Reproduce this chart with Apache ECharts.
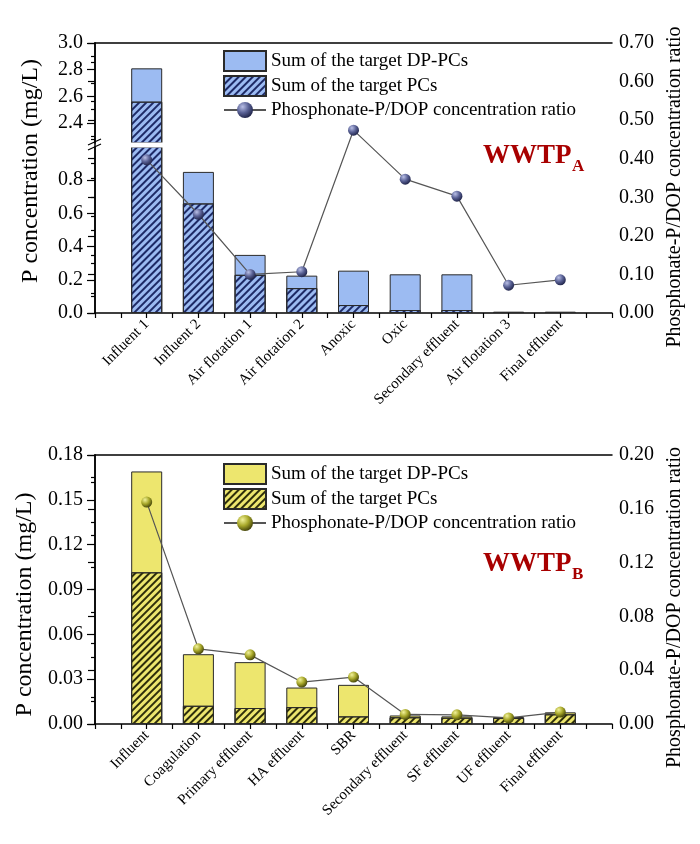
<!DOCTYPE html>
<html>
<head>
<meta charset="utf-8">
<script src="https://cdn.jsdelivr.net/npm/echarts@6/dist/echarts.min.js"></script>
<style>
html,body{margin:0;padding:0;background:#fff;}
#c{width:700px;height:844px;}
</style>
</head>
<body>
<div id="c"></div>
<script>
// ---------- data ----------
const catsA = ['Influent 1','Influent 2','Air flotation 1','Air flotation 2','Anoxic','Oxic','Secondary effluent','Air flotation 3','Final effluent'];
const dpA   = [2.81, 0.85, 0.35, 0.225, 0.255, 0.233, 0.233, 0.008, 0.008];
const pcsA  = [2.56, 0.66, 0.23, 0.15, 0.048, 0.018, 0.018, 0.006, 0.006];
const ratioA = [0.397, 0.256, 0.100, 0.107, 0.474, 0.347, 0.303, 0.072, 0.086];

const catsB = ['Influent','Coagulation','Primary effluent','HA effluent','SBR','Secondary effluent','SF effluent','UF effluent','Final effluent'];
const dpB   = [0.169, 0.0467, 0.0414, 0.0244, 0.0262, 0.0057, 0.0051, 0.0047, 0.0078];
const pcsB  = [0.1015, 0.0122, 0.0107, 0.0113, 0.0051, 0.0045, 0.0042, 0.0040, 0.0065];
const ratioB = [0.165, 0.0559, 0.0514, 0.0312, 0.0349, 0.0071, 0.0068, 0.0045, 0.0089];

const ticksA_upper = [2.4, 2.6, 2.8, 3.0];
const minorA_upper = [2.3, 2.5, 2.7, 2.9];
const ticksA_lower = [0, 0.2, 0.4, 0.6, 0.8];

const NAME_DP = 'Sum of the target DP-PCs';
const NAME_PC = 'Sum of the target PCs';
const NAME_R  = 'Phosphonate-P/DOP concentration ratio';
const NAME_Y  = 'P concentration (mg/L)';

// ---------- styles ----------
const FONT = 'Liberation Serif';
const AX = '#000';
const pair = (arr) => arr.map((v, i) => [i + 1, v]);

const chart = echarts.init(document.getElementById('c'), null, {renderer: 'canvas'});

function catAxis(grid, cats) {
  return {
    type: 'value', gridIndex: grid, min: 0, max: 10, interval: 0.5, position: 'bottom',
    splitLine: {show: false},
    axisLine: {show: true, onZero: false, lineStyle: {color: AX, width: 1.5}},
    axisTick: {show: true, inside: false, length: 5, lineStyle: {color: AX, width: 1.2}},
    axisLabel: {
      rotate: 45, margin: 9, fontFamily: FONT, fontSize: 15, color: '#000',
      showMinLabel: true, showMaxLabel: true,
      formatter: (v) => (Number.isInteger(v) && v >= 1 && v <= cats.length) ? cats[v - 1] : ''
    }
  };
}
function topLine(grid) {
  return {
    type: 'value', gridIndex: grid, min: 0, max: 10, position: 'top',
    splitLine: {show: false},
    axisLine: {show: true, onZero: false, lineStyle: {color: AX, width: 1.5}},
    axisTick: {show: false}, axisLabel: {show: false}
  };
}
function hiddenX(grid) {
  return {type: 'value', gridIndex: grid, min: 0, max: 10, show: false, splitLine: {show: false}};
}

const labelStyle = {fontFamily: FONT, fontSize: 20, color: '#000'};
const nameStyleL = (shift) => ({fontFamily: FONT, fontSize: 24, color: '#000', padding: [0, shift, 0, 0]});
const nameStyleR = (shift) => ({fontFamily: FONT, fontSize: 20, color: '#000', padding: [0, shift, 0, 0]});

const blueDecal = {symbol: 'rect', symbolSize: 1, dashArrayX: [1, 0], dashArrayY: [2, 3], rotation: -Math.PI / 4, color: '#1d2a66'};
const yellowDecal = {symbol: 'rect', symbolSize: 1, dashArrayX: [1, 0], dashArrayY: [2, 3], rotation: -Math.PI / 4, color: '#2e2e0a'};

const blueFill = '#9cbbf2';
const yellowFill = '#ede66e';

const ballA = new echarts.graphic.RadialGradient(0.35, 0.3, 0.75, [
  {offset: 0, color: '#b9bfe6'}, {offset: 0.5, color: '#5a6296'}, {offset: 1, color: '#1c2044'}
]);
const ballB = new echarts.graphic.RadialGradient(0.35, 0.3, 0.75, [
  {offset: 0, color: '#f2f29a'}, {offset: 0.5, color: '#a8a82a'}, {offset: 1, color: '#3e3e08'}
]);

function barSeries(name, xi, yi, data, fill, decal, overlay) {
  const s = {
    type: 'bar', name: name, xAxisIndex: xi, yAxisIndex: yi,
    data: pair(data), barWidth: 31, clip: true,
    itemStyle: {color: fill, borderColor: '#2a2a2a', borderWidth: 1},
    emphasis: {disabled: true}
  };
  if (decal) s.itemStyle.decal = decal;
  if (overlay) s.barGap = '-100%';
  return s;
}
function lineSeries(name, xi, yi, data, ball) {
  return {
    type: 'line', name: name, xAxisIndex: xi, yAxisIndex: yi, data: pair(data), z: 6,
    symbol: 'circle', symbolSize: 11,
    lineStyle: {color: '#555', width: 1.2},
    itemStyle: {color: ball, borderWidth: 0},
    emphasis: {disabled: true}
  };
}
function legendAt(top, suffix) {
  return {
    left: 223, top: top, padding: 0, orient: 'vertical', itemWidth: 42, itemHeight: 20, itemGap: 3,
    textStyle: {fontFamily: FONT, fontSize: 19, color: '#000', lineHeight: 20},
    selectedMode: false,
    formatter: (n) => n.trim(),
    data: [{name: NAME_DP + suffix, icon: 'rect'}, {name: NAME_PC + suffix, icon: 'rect'}, {name: NAME_R + suffix}]
  };
}
const titleStyle = (size) => ({fontFamily: FONT, fontSize: size, fontWeight: 'bold', color: '#a80000'});

const option = {
  animation: false,
  backgroundColor: '#fff',
  textStyle: {fontFamily: FONT},
  grid: [
    {left: 95, top: 43, width: 517, height: 270},   // 0 full A
    {left: 95, top: 43, width: 517, height: 100},   // 1 upper A
    {left: 95, top: 147, width: 517, height: 166},  // 2 lower A
    {left: 95, top: 455, width: 517, height: 269}   // 3 B
  ],
  xAxis: [
    catAxis(0, catsA),   // 0
    topLine(0),          // 1
    hiddenX(1),          // 2
    hiddenX(2),          // 3
    catAxis(3, catsB),   // 4
    topLine(3)           // 5
  ],
  yAxis: [
    { // 0 right ratio A
      type: 'value', gridIndex: 0, position: 'right', min: 0, max: 0.7, interval: 0.1,
      splitLine: {show: false},
      axisLine: {show: true, lineStyle: {color: AX, width: 1.5}},
      axisTick: {show: true, inside: true, length: 7, lineStyle: {color: AX, width: 1.2}},
      minorTick: {show: true, splitNumber: 2, length: 4, lineStyle: {color: AX, width: 1.2}},
      axisLabel: Object.assign({margin: 7, formatter: (v) => v.toFixed(2)}, labelStyle),
      name: NAME_R, nameLocation: 'middle', nameGap: 52, nameTextStyle: nameStyleR(18)
    },
    { // 1 left name A
      type: 'value', gridIndex: 0, position: 'left', min: 0, max: 1,
      splitLine: {show: false}, axisLine: {show: false}, axisTick: {show: false}, axisLabel: {show: false},
      name: NAME_Y, nameLocation: 'middle', nameGap: 52, nameTextStyle: {fontFamily: FONT, fontSize: 24, color: '#000', padding: [0, 0, 0, 14]}
    },
    { // 2 upper left A
      type: 'value', gridIndex: 1, position: 'left', min: 2.25, max: 3.0,
      splitLine: {show: false},
      axisLine: {show: true, lineStyle: {color: AX, width: 1.5}},
      axisTick: {show: true, inside: false, length: 8, customValues: ticksA_upper, lineStyle: {color: AX, width: 1.2}},
      axisLabel: Object.assign({margin: 12, customValues: ticksA_upper, formatter: (v) => v.toFixed(1)}, labelStyle)
    },
    { // 3 upper left minor ticks
      type: 'value', gridIndex: 1, position: 'left', min: 2.25, max: 3.0,
      splitLine: {show: false}, axisLine: {show: false},
      axisTick: {show: true, inside: false, length: 4, customValues: minorA_upper, lineStyle: {color: AX, width: 1.2}},
      axisLabel: {show: false}
    },
    { // 4 lower left A
      type: 'value', gridIndex: 2, position: 'left', min: 0, max: 1.0, interval: 0.2,
      splitLine: {show: false},
      axisLine: {show: true, onZero: false, lineStyle: {color: AX, width: 1.5}},
      axisTick: {show: true, inside: false, length: 8, customValues: ticksA_lower, lineStyle: {color: AX, width: 1.2}},
      minorTick: {show: true, splitNumber: 2, length: 4, lineStyle: {color: AX, width: 1.2}},
      axisLabel: Object.assign({margin: 12, customValues: ticksA_lower, formatter: (v) => v.toFixed(1)}, labelStyle)
    },
    { // 5 left B
      type: 'value', gridIndex: 3, position: 'left', min: 0, max: 0.18, interval: 0.03,
      splitLine: {show: false},
      axisLine: {show: true, lineStyle: {color: AX, width: 1.5}},
      axisTick: {show: true, inside: false, length: 8, lineStyle: {color: AX, width: 1.2}},
      minorTick: {show: true, splitNumber: 2, length: 4, lineStyle: {color: AX, width: 1.2}},
      axisLabel: Object.assign({margin: 12, formatter: (v) => v.toFixed(2)}, labelStyle),
      name: NAME_Y, nameLocation: 'middle', nameGap: 52, nameTextStyle: nameStyleL(30)
    },
    { // 6 right B
      type: 'value', gridIndex: 3, position: 'right', min: 0, max: 0.2, interval: 0.04,
      splitLine: {show: false},
      axisLine: {show: true, lineStyle: {color: AX, width: 1.5}},
      axisTick: {show: true, inside: true, length: 7, lineStyle: {color: AX, width: 1.2}},
      minorTick: {show: true, splitNumber: 2, length: 4, lineStyle: {color: AX, width: 1.2}},
      axisLabel: Object.assign({margin: 7, formatter: (v) => v.toFixed(2)}, labelStyle),
      name: NAME_R, nameLocation: 'middle', nameGap: 52, nameTextStyle: nameStyleR(36)
    }
  ],
  legend: [legendAt(50, ''), legendAt(463, ' ')],
  title: [
    {text: 'WWTP', left: 483, top: 143, padding: 0, textStyle: titleStyle(27)},
    {text: 'A', left: 572, top: 158, padding: 0, textStyle: titleStyle(17)},
    {text: 'WWTP', left: 483, top: 551, padding: 0, textStyle: titleStyle(27)},
    {text: 'B', left: 572, top: 566, padding: 0, textStyle: titleStyle(17)}
  ],
  graphic: [
    // white gap of the broken left axis, drawn between bars and the ratio line
    {type: 'rect', z: 4, shape: {x: 96, y: 142.4, width: 514.5, height: 5.2}, style: {fill: '#fff'}},
    {type: 'line', z: 100, shape: {x1: 88, y1: 145, x2: 101, y2: 139}, style: {stroke: '#000', lineWidth: 1.2}},
    {type: 'line', z: 100, shape: {x1: 88, y1: 150, x2: 101, y2: 144}, style: {stroke: '#000', lineWidth: 1.2}}
  ],
  series: [
    barSeries(NAME_DP, 2, 2, dpA, blueFill, null, false),
    barSeries(NAME_PC, 2, 2, pcsA, blueFill, blueDecal, true),
    barSeries(NAME_DP, 3, 4, dpA, blueFill, null, false),
    barSeries(NAME_PC, 3, 4, pcsA, blueFill, blueDecal, true),
    lineSeries(NAME_R, 0, 0, ratioA, ballA),
    barSeries(NAME_DP + ' ', 4, 5, dpB, yellowFill, null, false),
    barSeries(NAME_PC + ' ', 4, 5, pcsB, yellowFill, yellowDecal, true),
    lineSeries(NAME_R + ' ', 4, 6, ratioB, ballB)
  ]
};
chart.setOption(option);
</script>
</body>
</html>
